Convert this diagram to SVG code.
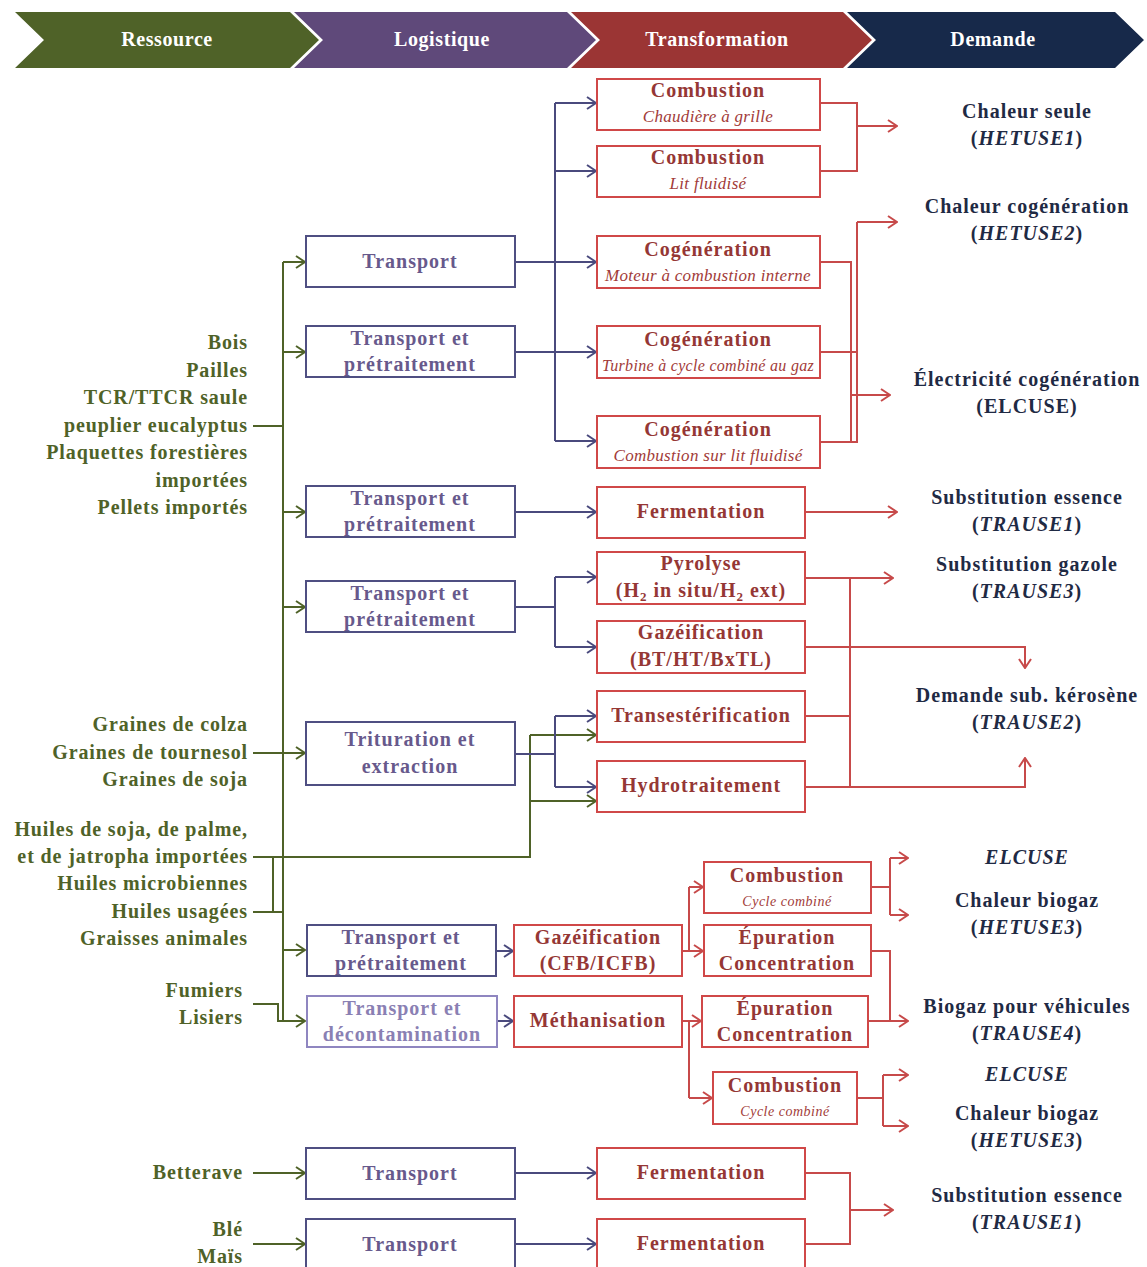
<svg xmlns="http://www.w3.org/2000/svg" width="1147" height="1267" viewBox="0 0 1147 1267">
<defs>
<style>
.hd{font-family:"Liberation Serif",serif;font-weight:bold;font-size:20px;fill:#fff;text-anchor:middle;letter-spacing:0.6px}
.b{font-family:"Liberation Serif",serif;font-weight:bold;font-size:20px;letter-spacing:1px;text-anchor:middle}
.res{font-family:"Liberation Serif",serif;font-weight:bold;font-size:20px;letter-spacing:0.9px;text-anchor:end;fill:#4f6228}
.dem{fill:#1f2a44}
.lg{fill:#67598c}
.lgl{fill:#8a80b3}
.tr{fill:#953735}
.it{font-family:"Liberation Serif",serif;font-style:italic;font-size:17px;text-anchor:middle;fill:#a23b39;letter-spacing:0.3px}
.itm{font-size:16px}
.its{font-size:14px;letter-spacing:0.5px}
.ib{font-style:italic}
.lbox{fill:#fff;stroke:#4f4f82;stroke-width:2}
.lboxl{fill:#fff;stroke:#8f86c0;stroke-width:2}
.tbox{fill:#fff;stroke:#d04848;stroke-width:2}
.cg{fill:none;stroke:#4f6228;stroke-width:2}
.cp{fill:none;stroke:#4a4a7d;stroke-width:2}
.cr{fill:none;stroke:#c74a4a;stroke-width:2}
.ag{marker-end:url(#ag)}
.ap{marker-end:url(#ap)}
.ar{marker-end:url(#ar)}
</style>
<marker id="ag" markerUnits="userSpaceOnUse" markerWidth="12" markerHeight="14" refX="11" refY="7" orient="auto"><path d="M2,1 L11,7 L2,13" fill="none" stroke="#4f6228" stroke-width="2"/></marker>
<marker id="ap" markerUnits="userSpaceOnUse" markerWidth="12" markerHeight="14" refX="11" refY="7" orient="auto"><path d="M2,1 L11,7 L2,13" fill="none" stroke="#4a4a7d" stroke-width="2"/></marker>
<marker id="ar" markerUnits="userSpaceOnUse" markerWidth="12" markerHeight="14" refX="11" refY="7" orient="auto"><path d="M2,1 L11,7 L2,13" fill="none" stroke="#c74a4a" stroke-width="2"/></marker>
</defs>
<rect width="1147" height="1267" fill="#fff"/>

<g id="header">
<polygon points="15,12 290,12 319,40 290,68 15,68 44,40" fill="#4f6228"/>
<polygon points="294,12 567,12 596,40 567,68 294,68 323,40" fill="#5f497a"/>
<polygon points="571,12 843,12 872,40 843,68 571,68 600,40" fill="#9b3534"/>
<polygon points="847,12 1115,12 1144,40 1115,68 847,68 876,40" fill="#17294a"/>
<text class="hd" x="167" y="46">Ressource</text>
<text class="hd" x="442" y="46">Logistique</text>
<text class="hd" x="717" y="46">Transformation</text>
<text class="hd" x="993" y="46">Demande</text>
</g>

<g id="connectors">
<path class="cg" d="M283,262 V1021"/>
<path class="cg ag" d="M283,262 H305"/>
<path class="cg ag" d="M283,352 H305"/>
<path class="cg ag" d="M283,512 H305"/>
<path class="cg ag" d="M283,607 H305"/>
<path class="cg ag" d="M283,950 H305"/>
<path class="cg" d="M253,426 H283"/>
<path class="cg ag" d="M253,753 H305"/>
<path class="cg" d="M253,857 H530 V735"/>
<path class="cg ag" d="M530,735 H596"/>
<path class="cg ag" d="M530,801 H596"/>
<path class="cg" d="M273,857 V912 M253,912 H283"/>
<path class="cg ag" d="M253,1004 H278 V1021 H305"/>
<path class="cg ag" d="M253,1173 H305"/>
<path class="cg ag" d="M253,1244 H305"/>
<path class="cp" d="M515,262 H555 M515,352 H555 M555,103 V441"/>
<path class="cp ap" d="M555,103 H596"/>
<path class="cp ap" d="M555,171 H596"/>
<path class="cp ap" d="M555,262 H596"/>
<path class="cp ap" d="M555,352 H596"/>
<path class="cp ap" d="M555,441 H596"/>
<path class="cp ap" d="M515,512 H596"/>
<path class="cp" d="M515,607 H555 M555,577 V647"/>
<path class="cp ap" d="M555,577 H596"/>
<path class="cp ap" d="M555,647 H596"/>
<path class="cp" d="M515,754 H555 M555,716 V787"/>
<path class="cp ap" d="M555,716 H596"/>
<path class="cp ap" d="M555,787 H596"/>
<path class="cp ap" d="M496,951 H513"/>
<path class="cp ap" d="M497,1021 H513"/>
<path class="cp ap" d="M515,1173 H596"/>
<path class="cp ap" d="M515,1244 H596"/>
<path class="cr" d="M820,103 H857 V171 H820"/>
<path class="cr ar" d="M857,126 H897"/>
<path class="cr" d="M820,262 H851 V442 M820,352 H857 M820,442 H857 V222"/>
<path class="cr ar" d="M857,222 H897"/>
<path class="cr ar" d="M851,395 H890"/>
<path class="cr ar" d="M805,512 H897"/>
<path class="cr" d="M805,578 H850 V787 M805,716 H850"/>
<path class="cr ar" d="M850,578 H893"/>
<path class="cr ar" d="M805,647 H1025 V668"/>
<path class="cr ar" d="M805,787 H1025 V758"/>
<path class="cr" d="M682,951 H689 V887"/>
<path class="cr ar" d="M689,887 H703"/>
<path class="cr ar" d="M689,951 H703"/>
<path class="cr ar" d="M682,1021 H701"/>
<path class="cr" d="M689,1021 V1098"/>
<path class="cr ar" d="M689,1098 H712"/>
<path class="cr" d="M871,887 H890 M890,858 V915"/>
<path class="cr ar" d="M890,858 H908"/>
<path class="cr ar" d="M890,915 H908"/>
<path class="cr" d="M871,951 H890 V1021"/>
<path class="cr ar" d="M868,1021 H908"/>
<path class="cr" d="M857,1098 H883 M883,1075 V1126"/>
<path class="cr ar" d="M883,1075 H908"/>
<path class="cr ar" d="M883,1126 H908"/>
<path class="cr" d="M805,1173 H850 V1244 H805"/>
<path class="cr ar" d="M850,1210 H893"/>
</g>

<g id="resources">
<g id="res-bois">
<text class="res" x="248" y="349">Bois</text>
<text class="res" x="248" y="377">Pailles</text>
<text class="res" x="248" y="404">TCR/TTCR saule</text>
<text class="res" x="248" y="432">peuplier eucalyptus</text>
<text class="res" x="248" y="459">Plaquettes forestières</text>
<text class="res" x="248" y="487">importées</text>
<text class="res" x="248" y="514">Pellets importés</text>
</g>
<g id="res-graines">
<text class="res" x="248" y="731">Graines de colza</text>
<text class="res" x="248" y="759">Graines de tournesol</text>
<text class="res" x="248" y="786">Graines de soja</text>
</g>
<g id="res-huiles">
<text class="res" x="248" y="836">Huiles de soja, de palme,</text>
<text class="res" x="248" y="863">et de jatropha importées</text>
<text class="res" x="248" y="890">Huiles microbiennes</text>
<text class="res" x="248" y="918">Huiles usagées</text>
<text class="res" x="248" y="945">Graisses animales</text>
</g>
<g id="res-fumiers">
<text class="res" x="243" y="997">Fumiers</text>
<text class="res" x="243" y="1024">Lisiers</text>
</g>
<g id="res-betterave"><text class="res" x="243" y="1179">Betterave</text></g>
<g id="res-ble">
<text class="res" x="243" y="1236">Blé</text>
<text class="res" x="243" y="1263">Maïs</text>
</g>
</g>

<g id="logistique">
<g id="log1"><rect class="lbox" x="306" y="236" width="209" height="51"/><text class="b lg" x="410" y="268">Transport</text></g>
<g id="log2"><rect class="lbox" x="306" y="326" width="209" height="51"/><text class="b lg" x="410" y="345">Transport et</text><text class="b lg" x="410" y="371">prétraitement</text></g>
<g id="log3"><rect class="lbox" x="306" y="486" width="209" height="51"/><text class="b lg" x="410" y="505">Transport et</text><text class="b lg" x="410" y="531">prétraitement</text></g>
<g id="log4"><rect class="lbox" x="306" y="581" width="209" height="51"/><text class="b lg" x="410" y="600">Transport et</text><text class="b lg" x="410" y="626">prétraitement</text></g>
<g id="log5"><rect class="lbox" x="306" y="722" width="209" height="63"/><text class="b lg" x="410" y="746">Trituration et</text><text class="b lg" x="410" y="773">extraction</text></g>
<g id="log6"><rect class="lbox" x="307" y="925" width="189" height="51"/><text class="b lg" x="401" y="944">Transport et</text><text class="b lg" x="401" y="970">prétraitement</text></g>
<g id="log7"><rect class="lboxl" x="307" y="996" width="190" height="51"/><text class="b lgl" x="402" y="1015">Transport et</text><text class="b lgl" x="402" y="1041">décontamination</text></g>
<g id="log8"><rect class="lbox" x="306" y="1148" width="209" height="51"/><text class="b lg" x="410" y="1180">Transport</text></g>
<g id="log9"><rect class="lbox" x="306" y="1219" width="209" height="52"/><text class="b lg" x="410" y="1251">Transport</text></g>
</g>

<g id="transformation">
<g id="t1"><rect class="tbox" x="597" y="79" width="223" height="51"/><text class="b tr" x="708" y="97">Combustion</text><text class="it" x="708" y="122">Chaudière à grille</text></g>
<g id="t2"><rect class="tbox" x="597" y="146" width="223" height="51"/><text class="b tr" x="708" y="164">Combustion</text><text class="it" x="708" y="189">Lit fluidisé</text></g>
<g id="t3"><rect class="tbox" x="597" y="236" width="223" height="52"/><text class="b tr" x="708" y="256">Cogénération</text><text class="it" x="708" y="281">Moteur à combustion interne</text></g>
<g id="t4"><rect class="tbox" x="597" y="326" width="223" height="52"/><text class="b tr" x="708" y="346">Cogénération</text><text class="it itm" x="708" y="371">Turbine à cycle combiné au gaz</text></g>
<g id="t5"><rect class="tbox" x="597" y="416" width="223" height="52"/><text class="b tr" x="708" y="436">Cogénération</text><text class="it" x="708" y="461">Combustion sur lit fluidisé</text></g>
<g id="t6"><rect class="tbox" x="597" y="487" width="208" height="51"/><text class="b tr" x="701" y="518">Fermentation</text></g>
<g id="t7"><rect class="tbox" x="597" y="552" width="208" height="52"/><text class="b tr" x="701" y="570">Pyrolyse</text><text class="b tr" x="701" y="597">(H<tspan font-size="13" dy="4">2</tspan><tspan dy="-4"> in situ/H</tspan><tspan font-size="13" dy="4">2</tspan><tspan dy="-4"> ext)</tspan></text></g>
<g id="t8"><rect class="tbox" x="597" y="621" width="208" height="52"/><text class="b tr" x="701" y="639">Gazéification</text><text class="b tr" x="701" y="666">(BT/HT/BxTL)</text></g>
<g id="t9"><rect class="tbox" x="597" y="691" width="208" height="51"/><text class="b tr" x="701" y="722">Transestérification</text></g>
<g id="t10"><rect class="tbox" x="597" y="761" width="208" height="51"/><text class="b tr" x="701" y="792">Hydrotraitement</text></g>
<g id="t11"><rect class="tbox" x="514" y="925" width="168" height="51"/><text class="b tr" x="598" y="944">Gazéification</text><text class="b tr" x="598" y="970">(CFB/ICFB)</text></g>
<g id="t12"><rect class="tbox" x="514" y="996" width="168" height="51"/><text class="b tr" x="598" y="1027">Méthanisation</text></g>
<g id="t13"><rect class="tbox" x="704" y="862" width="167" height="51"/><text class="b tr" x="787" y="882">Combustion</text><text class="it its" x="787" y="906">Cycle combiné</text></g>
<g id="t14"><rect class="tbox" x="704" y="925" width="167" height="51"/><text class="b tr" x="787" y="944">Épuration</text><text class="b tr" x="787" y="970">Concentration</text></g>
<g id="t15"><rect class="tbox" x="702" y="996" width="166" height="51"/><text class="b tr" x="785" y="1015">Épuration</text><text class="b tr" x="785" y="1041">Concentration</text></g>
<g id="t16"><rect class="tbox" x="713" y="1072" width="144" height="52"/><text class="b tr" x="785" y="1092">Combustion</text><text class="it its" x="785" y="1116">Cycle combiné</text></g>
<g id="t17"><rect class="tbox" x="597" y="1148" width="208" height="51"/><text class="b tr" x="701" y="1179">Fermentation</text></g>
<g id="t18"><rect class="tbox" x="597" y="1219" width="208" height="52"/><text class="b tr" x="701" y="1250">Fermentation</text></g>
</g>

<g id="demande">
<g id="d1"><text class="b dem" x="1027" y="118">Chaleur seule</text><text class="b dem" x="1027" y="145">(<tspan class="ib">HETUSE1</tspan>)</text></g>
<g id="d2"><text class="b dem" x="1027" y="213">Chaleur cogénération</text><text class="b dem" x="1027" y="240">(<tspan class="ib">HETUSE2</tspan>)</text></g>
<g id="d3"><text class="b dem" x="1027" y="386">Électricité cogénération</text><text class="b dem" x="1027" y="413">(ELCUSE)</text></g>
<g id="d4"><text class="b dem" x="1027" y="504">Substitution essence</text><text class="b dem" x="1027" y="531">(<tspan class="ib">TRAUSE1</tspan>)</text></g>
<g id="d5"><text class="b dem" x="1027" y="571">Substitution gazole</text><text class="b dem" x="1027" y="598">(<tspan class="ib">TRAUSE3</tspan>)</text></g>
<g id="d6"><text class="b dem" x="1027" y="702">Demande sub. kérosène</text><text class="b dem" x="1027" y="729">(<tspan class="ib">TRAUSE2</tspan>)</text></g>
<g id="d7"><text class="b dem ib" x="1027" y="864">ELCUSE</text></g>
<g id="d8"><text class="b dem" x="1027" y="907">Chaleur biogaz</text><text class="b dem" x="1027" y="934">(<tspan class="ib">HETUSE3</tspan>)</text></g>
<g id="d9"><text class="b dem" x="1027" y="1013">Biogaz pour véhicules</text><text class="b dem" x="1027" y="1040">(<tspan class="ib">TRAUSE4</tspan>)</text></g>
<g id="d10"><text class="b dem ib" x="1027" y="1081">ELCUSE</text></g>
<g id="d11"><text class="b dem" x="1027" y="1120">Chaleur biogaz</text><text class="b dem" x="1027" y="1147">(<tspan class="ib">HETUSE3</tspan>)</text></g>
<g id="d12"><text class="b dem" x="1027" y="1202">Substitution essence</text><text class="b dem" x="1027" y="1229">(<tspan class="ib">TRAUSE1</tspan>)</text></g>
</g>
</svg>
